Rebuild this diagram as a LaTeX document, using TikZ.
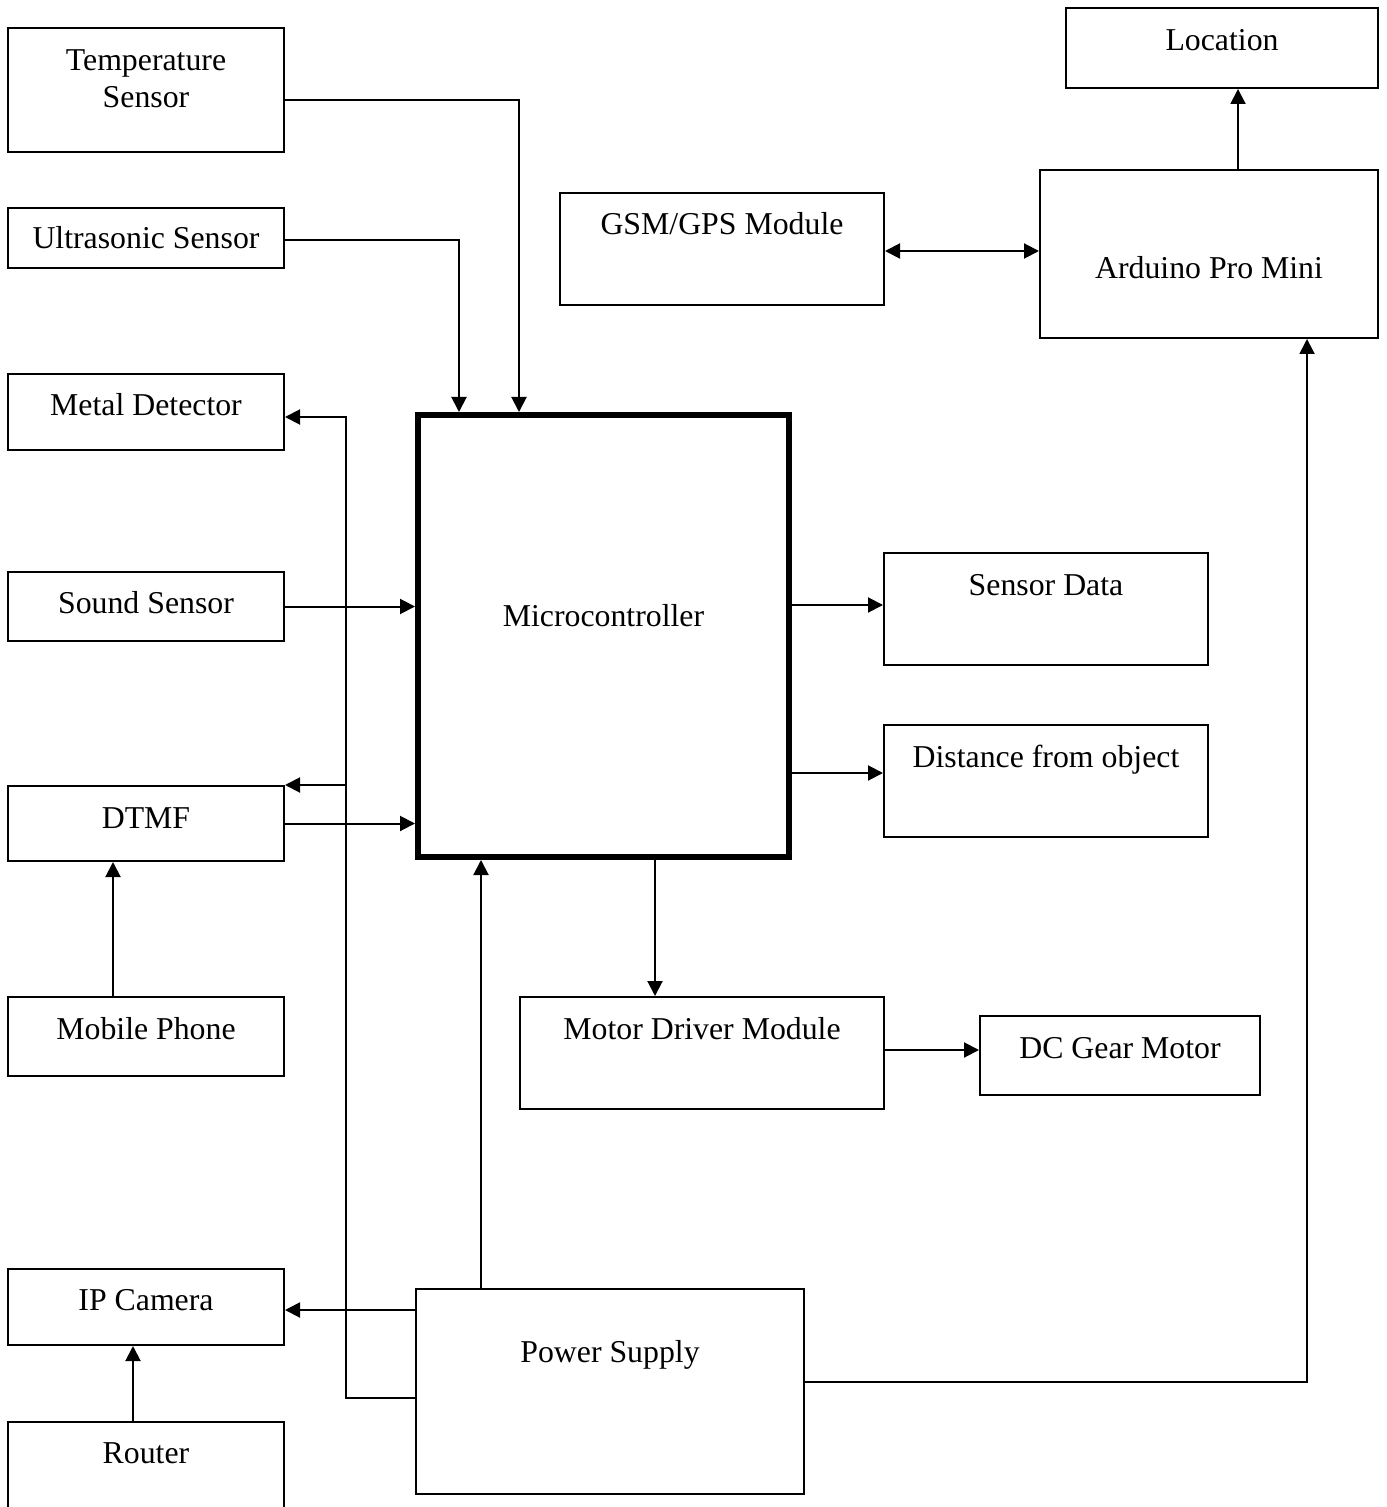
\documentclass[tikz,border=0pt]{standalone}
\usepackage{fontspec}
\setmainfont{Liberation Serif}
\usetikzlibrary{arrows.meta,positioning,calc}

\begin{document}
\begin{tikzpicture}[x=0.5pt,y=-0.5pt,>={Triangle[length=7.5pt,width=7.5pt]},line width=1pt,
  every node/.style={font=\fontsize{15.9}{18.5}\selectfont},
  blk/.style={draw,line width=1pt,align=center,inner sep=2pt,text height=11pt,text depth=#1},
  blk/.default=0.5pt]
\useasboundingbox (0,0) rectangle (1386,1507);
\foreach \nm/\cy/\hh/\dd/\lab in {ultra/238/30/0.5pt/{Ultrasonic Sensor},
    metal/412/38/7.5pt/{Metal Detector},sound/606.5/34.5/4pt/{Sound Sensor},dtmf/823.5/37.5/6pt/{DTMF},
    mobile/1036.5/39.5/8pt/{Mobile Phone},ipcam/1307/38/7.5pt/{IP Camera},router/1478/56/25.5pt/{Router}} {
  \node[blk=\dd,minimum width=138pt,minimum height=\hh pt] (\nm) at (146,\cy) {\lab};
}
\node[blk=12pt,text height=29.5pt,minimum width=138pt,minimum height=62pt] (temp) at (146,90) {Temperature\\Sensor};
\node[blk=20.5pt,line width=3pt,minimum width=185.5pt,minimum height=221pt] (micro) at (603.5,636) {Microcontroller};
\node[blk=25.5pt,minimum width=162pt,minimum height=56pt] (gsm) at (722,249) {GSM/GPS Module};
\node[blk=0pt,text height=24.5pt,minimum width=169pt,minimum height=84pt] (arduino) at (1209,254) {Arduino Pro Mini};
\node[blk=8.5pt,minimum width=156pt,minimum height=40pt] (loc) at (1222,48) {Location};
\node[blk=24.5pt,minimum width=162pt,minimum height=56pt] (sdata) at (1046,609) {Sensor Data};
\node[blk=24.5pt,minimum width=162pt,minimum height=56pt] (dist) at (1046,781) {Distance from object};
\node[blk=24.5pt,minimum width=182pt,minimum height=56pt] (motor) at (702,1053) {Motor Driver Module};
\node[blk=8pt,minimum width=140pt,minimum height=39.5pt] (dcgear) at (1120,1055.5) {DC Gear Motor};
\node[blk=40pt,minimum width=194pt,minimum height=102.5pt] (power) at (610,1391.5) {Power Supply};
% sensors into the controller
\draw[->] ([yshift=-5pt]temp.east) -| ([xshift=-42.25pt]micro.north);
\draw[->] ([yshift=-1pt]ultra.east) -| ([xshift=-72.25pt]micro.north);
\draw[->] (sound.east) -- (sound.east -| micro.west);
\draw[->] (dtmf.east) -- (dtmf.east -| micro.west);
\draw[->] ([xshift=-16.5pt]mobile.north) -- ([xshift=-16.5pt]dtmf.south);
\draw[->] ([xshift=-6.5pt]router.north) -- ([xshift=-6.5pt]ipcam.south);
% supply lines
\coordinate (bus) at ([shift={(-34.5pt,-3.25pt)}]power.west);
\draw[->] ([yshift=-3.25pt]power.west) -- (bus) |- ([yshift=-2.5pt]metal.east);
\draw[->] (bus |- dtmf.north east) -- (dtmf.north east);
\draw[->] ([yshift=40.75pt]power.west) -- ([yshift=40.75pt]power.west -| ipcam.east);
\draw[->] ([xshift=-64.5pt]power.north) -- ([xshift=-64.5pt]power.north |- micro.south);
\draw[->] ([yshift=4.75pt]power.east) -| ([xshift=49pt]arduino.south);
% controller outputs
\draw[->] ([yshift=2pt]sdata.west -| micro.east) -- ([yshift=2pt]sdata.west);
\draw[->] ([yshift=4pt]dist.west -| micro.east) -- ([yshift=4pt]dist.west);
\draw[->] ([xshift=-23.5pt]motor.north |- micro.south) -- ([xshift=-23.5pt]motor.north);
\draw[->] ([yshift=1.5pt]motor.east) -- ([yshift=1.5pt]motor.east -| dcgear.west);
\draw[<->] ([yshift=-1pt]gsm.east) -- ([yshift=-1pt]gsm.east -| arduino.west);
\draw[->] ([xshift=14.5pt]arduino.north) -- ([xshift=14.5pt]arduino.north |- loc.south);
\end{tikzpicture}
\end{document}
